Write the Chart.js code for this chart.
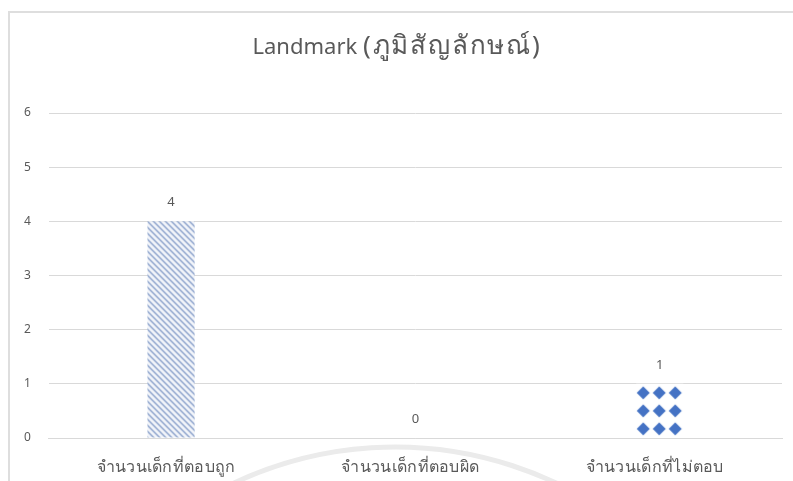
<!DOCTYPE html>
<html>
<head>
<meta charset="utf-8">
<title>Landmark</title>
<script src="https://cdn.jsdelivr.net/npm/chart.js@4.4.1/dist/chart.umd.min.js"></script>
<style>
  html, body { margin: 0; padding: 0; background: #fff; }
  #wrap { position: relative; width: 793px; height: 481px; }
  #frame {
    position: absolute; left: 8px; top: 11px; right: 0; bottom: 0;
    border-left: 2px solid #dedede; border-top: 2px solid #dedede;
  }
  canvas { position: absolute; left: 0; top: 0; }
</style>
</head>
<body>
<div id="wrap">
  <div id="frame"></div>
  <canvas id="chart" width="793" height="481"></canvas>
</div>
<script>
const titleLatin = "Landmark ";
const titleThai = "(ภูมิสัญลักษณ์)";
const categories = ["จำนวนเด็กที่ตอบถูก", "จำนวนเด็กที่ตอบผิด", "จำนวนเด็กที่ไม่ตอบ"];
const counts = [4, 0, 1];
const yTicks = [0, 1, 2, 3, 4, 5, 6];

const textColor = "#595959";
const gridColor = "#d9d9d9";
const blue = "#4472c4";
const fontFamily = "'Noto Sans', sans-serif";

/* =========================
   FILL PATTERNS
========================= */
function hatchPattern(ctx) {
  const s = 6;
  const c = document.createElement("canvas");
  c.width = s; c.height = s;
  const g = c.getContext("2d");
  g.fillStyle = "#f3f5fa";
  g.fillRect(0, 0, s, s);
  g.strokeStyle = "#6a87bd";
  g.lineWidth = 1.1;
  g.beginPath();
  g.moveTo(-1, -1); g.lineTo(s + 1, s + 1);
  g.moveTo(-1, s - 1); g.lineTo(1, s + 1);
  g.moveTo(s - 1, -1); g.lineTo(s + 1, 1);
  g.stroke();
  return ctx.createPattern(c, "repeat");
}

function diamondPattern(ctx) {
  const w = 16, h = 18;
  const c = document.createElement("canvas");
  c.width = w; c.height = h;
  const g = c.getContext("2d");
  g.fillStyle = "#ffffff";
  g.fillRect(0, 0, w, h);
  g.fillStyle = blue;
  g.beginPath();
  g.moveTo(7, 2.5);
  g.lineTo(13.5, 9);
  g.lineTo(7, 15.5);
  g.lineTo(0.5, 9);
  g.closePath();
  g.fill();
  return ctx.createPattern(c, "repeat");
}

const ctx = document.getElementById("chart").getContext("2d");
const fills = [hatchPattern(ctx), "rgba(0,0,0,0)", diamondPattern(ctx)];

/* patterns start at each bar's top left corner */
const alignPatterns = {
  id: "alignPatterns",
  beforeDatasetsDraw(chart) {
    chart.getDatasetMeta(0).data.forEach((bar, i) => {
      const p = fills[i];
      if (p && p.setTransform) {
        const left = bar.x - bar.width / 2;
        p.setTransform(new DOMMatrix().translate(left, bar.y));
      }
    });
  },
};

/* faint arc behind the axis labels */
const backdrop = {
  id: "backdrop",
  beforeDraw(chart) {
    const g = chart.ctx;
    g.save();
    g.strokeStyle = "#ebebeb";
    g.lineWidth = 5;
    g.beginPath();
    g.arc(395, 825, 378, Math.PI * 1.1, Math.PI * 1.9);
    g.stroke();
    g.restore();
  },
};

/* title, category names and values */
const texts = {
  id: "texts",
  afterDatasetsDraw(chart) {
    const g = chart.ctx;
    const area = chart.chartArea;
    const xScale = chart.scales.x;
    g.save();
    g.fillStyle = textColor;
    g.textBaseline = "middle";

    // title: latin part, then thai part a bit larger
    const latinFont = "22px " + fontFamily;
    const thaiFont = "26px " + fontFamily;
    const thaiSpacing = "1.8px";
    g.font = latinFont;
    const wLatin = g.measureText(titleLatin).width;
    g.font = thaiFont;
    g.letterSpacing = thaiSpacing;
    const wThai = g.measureText(titleThai).width;
    const startX = 397 - (wLatin + wThai) / 2;
    g.textAlign = "left";
    g.letterSpacing = "0px";
    g.font = latinFont;
    g.fillText(titleLatin, startX, 48);
    g.font = thaiFont;
    g.letterSpacing = thaiSpacing;
    g.fillText(titleThai, startX + wLatin, 47);

    // category names under the axis
    g.textAlign = "center";
    g.font = "16px " + fontFamily;
    g.letterSpacing = "0.3px";
    categories.forEach((name, i) => {
      g.fillText(name, xScale.getPixelForValue(i) - 5, area.bottom + 29);
    });

    // values above bars
    g.font = "13px " + fontFamily;
    g.letterSpacing = "0px";
    chart.getDatasetMeta(0).data.forEach((bar, i) => {
      g.fillText(String(counts[i]), bar.x, bar.y - 19);
    });
    g.restore();
  },
};

new Chart(ctx, {
  type: "bar",
  data: {
    labels: categories,
    datasets: [
      {
        data: counts,
        backgroundColor: fills,
        borderWidth: 0,
        barPercentage: 1,
        categoryPercentage: 0.193,
      },
    ],
  },
  options: {
    responsive: false,
    animation: false,
    layout: { padding: { left: 6, right: 11, top: 113, bottom: 43 } },
    plugins: {
      legend: { display: false },
      tooltip: { enabled: false },
      title: { display: false },
    },
    scales: {
      x: {
        grid: { display: false, drawTicks: false },
        border: { display: true, color: gridColor },
        ticks: { display: false },
      },
      y: {
        min: 0,
        max: 6,
        afterBuildTicks(axis) {
          axis.ticks = yTicks.map((v) => ({ value: v }));
        },
        grid: { color: gridColor, drawTicks: false },
        border: { display: false },
        ticks: {
          color: textColor,
          font: { family: fontFamily, size: 12 },
          padding: 18,
        },
      },
    },
  },
  plugins: [backdrop, alignPatterns, texts],
});
</script>
</body>
</html>
